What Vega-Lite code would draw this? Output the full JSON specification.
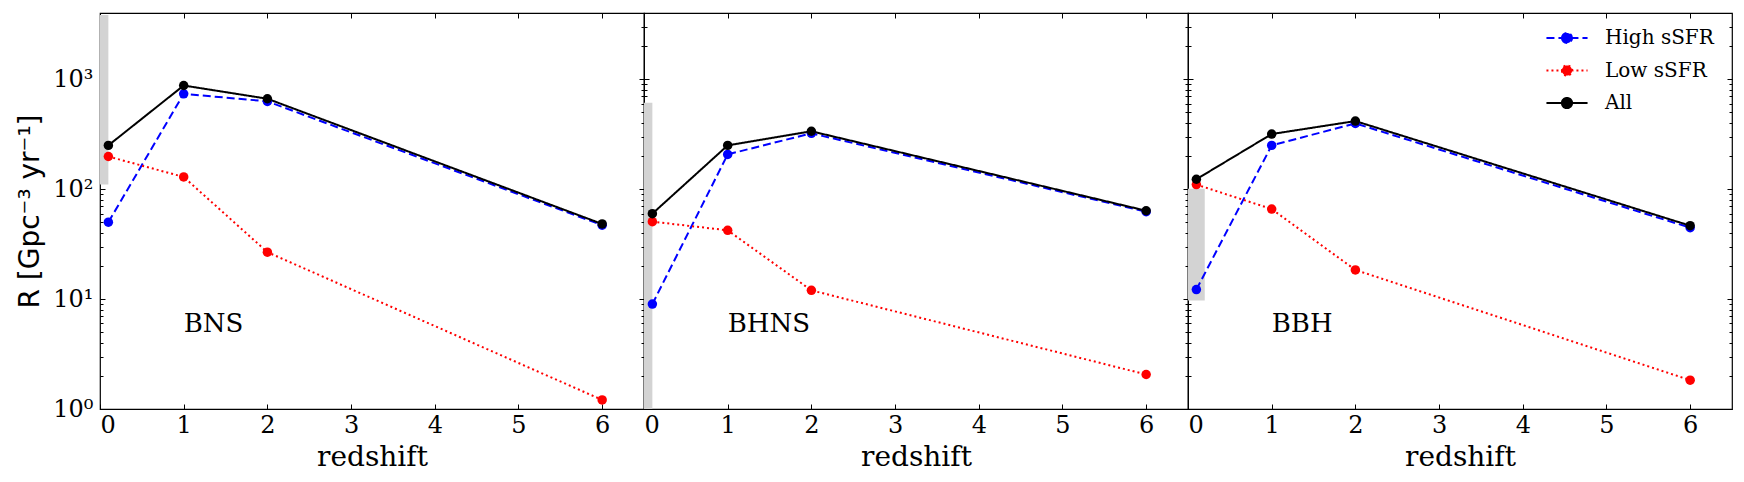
{
  "$schema": "https://vega.github.io/schema/vega-lite/v6.json",
  "padding": {"left": 16, "top": 11, "right": 5, "bottom": 3},
  "background": "white",
  "spacing": 0,
  "bounds": "flush",
  "config": {
    "view": {"stroke": "black", "strokeWidth": 1.2},
    "axis": {
      "grid": false,
      "domain": false,
      "tickColor": "black",
      "tickWidth": 1,
      "labelColor": "black",
      "titleColor": "black",
      "labelFont": "DejaVu Serif",
      "titleFont": "DejaVu Serif",
      "labelFontSize": 24,
      "titleFontSize": 28,
      "titleFontWeight": "normal"
    },
    "legend": {
      "symbolType": "M-1.37,0L1.37,0M-0.34,0A0.34,0.34,0,1,0,0.34,0A0.34,0.34,0,1,0,-0.34,0Z",
      "symbolSize": 900,
      "symbolStrokeWidth": 2,
      "labelFont": "DejaVu Serif",
      "labelFontSize": 20,
      "labelColor": "black",
      "labelOffset": 22,
      "rowPadding": 6.5,
      "padding": 0
    }
  },
  "datasets": {
    "rates": [
      {"panel": "BNS", "series": "High sSFR", "z": 0.1, "R": 50},
      {"panel": "BNS", "series": "High sSFR", "z": 1, "R": 736},
      {"panel": "BNS", "series": "High sSFR", "z": 2, "R": 628},
      {"panel": "BNS", "series": "High sSFR", "z": 6, "R": 47},
      {"panel": "BNS", "series": "Low sSFR", "z": 0.1, "R": 198},
      {"panel": "BNS", "series": "Low sSFR", "z": 1, "R": 129},
      {"panel": "BNS", "series": "Low sSFR", "z": 2, "R": 26.7},
      {"panel": "BNS", "series": "Low sSFR", "z": 6, "R": 1.21},
      {"panel": "BNS", "series": "All", "z": 0.1, "R": 250},
      {"panel": "BNS", "series": "All", "z": 1, "R": 876},
      {"panel": "BNS", "series": "All", "z": 2, "R": 664},
      {"panel": "BNS", "series": "All", "z": 6, "R": 48.2},
      {"panel": "BHNS", "series": "High sSFR", "z": 0.1, "R": 9.0},
      {"panel": "BHNS", "series": "High sSFR", "z": 1, "R": 207},
      {"panel": "BHNS", "series": "High sSFR", "z": 2, "R": 322},
      {"panel": "BHNS", "series": "High sSFR", "z": 6, "R": 62.3},
      {"panel": "BHNS", "series": "Low sSFR", "z": 0.1, "R": 50.6},
      {"panel": "BHNS", "series": "Low sSFR", "z": 1, "R": 42.2},
      {"panel": "BHNS", "series": "Low sSFR", "z": 2, "R": 12.0},
      {"panel": "BHNS", "series": "Low sSFR", "z": 6, "R": 2.06},
      {"panel": "BHNS", "series": "All", "z": 0.1, "R": 59.8},
      {"panel": "BHNS", "series": "All", "z": 1, "R": 250},
      {"panel": "BHNS", "series": "All", "z": 2, "R": 336},
      {"panel": "BHNS", "series": "All", "z": 6, "R": 63.6},
      {"panel": "BBH", "series": "High sSFR", "z": 0.1, "R": 12.2},
      {"panel": "BBH", "series": "High sSFR", "z": 1, "R": 250},
      {"panel": "BBH", "series": "High sSFR", "z": 2, "R": 396},
      {"panel": "BBH", "series": "High sSFR", "z": 6, "R": 44.6},
      {"panel": "BBH", "series": "Low sSFR", "z": 0.1, "R": 110},
      {"panel": "BBH", "series": "Low sSFR", "z": 1, "R": 65.9},
      {"panel": "BBH", "series": "Low sSFR", "z": 2, "R": 18.4},
      {"panel": "BBH", "series": "Low sSFR", "z": 6, "R": 1.83},
      {"panel": "BBH", "series": "All", "z": 0.1, "R": 123},
      {"panel": "BBH", "series": "All", "z": 1, "R": 317},
      {"panel": "BBH", "series": "All", "z": 2, "R": 416},
      {"panel": "BBH", "series": "All", "z": 6, "R": 46.5}
    ],
    "bands": [
      {"panel": "BNS", "x0": 0, "x1": 0.1, "lo": 110, "hi": 3840},
      {"panel": "BHNS", "x0": 0, "x1": 0.1, "lo": 1, "hi": 610},
      {"panel": "BBH", "x0": 0, "x1": 0.2, "lo": 9.7, "hi": 101}
    ],
    "labels": [
      {"panel": "BNS", "x": 1, "y": 5, "text": "BNS"},
      {"panel": "BHNS", "x": 1, "y": 5, "text": "BHNS"},
      {"panel": "BBH", "x": 1, "y": 5, "text": "BBH"}
    ]
  },
  "hconcat": [
    {
      "width": 544,
      "height": 396,
      "layer": [
        {
          "data": {"name": "bands"},
          "transform": [{"filter": "datum.panel === 'BNS'"}],
          "mark": {"type": "rect", "color": "#d3d3d3"},
          "encoding": {
            "x": {"field": "x0", "type": "quantitative", "scale": {"domain": [0, 6.5], "nice": false, "zero": false},
              "axis": {"orient": "bottom", "values": [0, 1, 2, 3, 4, 5, 6], "format": "d", "title": "redshift", "tickSize": -5, "labelPadding": 9, "titlePadding": 6}},
            "x2": {"field": "x1"},
            "y": {"field": "lo", "type": "quantitative", "scale": {"type": "log", "domain": [1, 4000], "nice": false},
              "axis": {"orient": "left", "values": [1, 2, 3, 4, 5, 6, 7, 8, 9, 10, 20, 30, 40, 50, 60, 70, 80, 90, 100, 200, 300, 400, 500, 600, 700, 800, 900, 1000, 2000, 3000],
                "labelExpr": "datum.value == 1 ? '10⁰' : datum.value == 10 ? '10¹' : datum.value == 100 ? '10²' : datum.value == 1000 ? '10³' : ''",
                "tickSize": {"condition": {"test": "indexof([1, 10, 100, 1000], datum.value) >= 0", "value": -5}, "value": -3},
                "labelPadding": 12, "title": "R [Gpc⁻³ yr⁻¹]", "titleFont": "DejaVu Sans", "titleFontSize": 28, "titlePadding": 8}},
            "y2": {"field": "hi"}
          }
        },
        {
          "data": {"name": "bands"},
          "transform": [{"filter": "datum.panel === 'BNS'"}],
          "mark": {"type": "rect", "opacity": 0},
          "encoding": {
            "x": {"field": "x0", "type": "quantitative", "axis": {"orient": "top", "values": [0, 1, 2, 3, 4, 5, 6], "labels": false, "title": null, "tickSize": -5}},
            "y": {"field": "lo", "type": "quantitative",
              "axis": {"orient": "right", "values": [1, 2, 3, 4, 5, 6, 7, 8, 9, 10, 20, 30, 40, 50, 60, 70, 80, 90, 100, 200, 300, 400, 500, 600, 700, 800, 900, 1000, 2000, 3000],
                "labels": false, "title": null,
                "tickSize": {"condition": {"test": "indexof([1, 10, 100, 1000], datum.value) >= 0", "value": -5}, "value": -3}}}
          }
        },
        {
          "data": {"name": "rates"},
          "transform": [{"filter": "datum.panel === 'BNS'"}],
          "mark": {"type": "line", "strokeWidth": 2, "point": {"filled": true, "size": 90}},
          "encoding": {
            "x": {"field": "z", "type": "quantitative", "axis": null},
            "y": {"field": "R", "type": "quantitative", "axis": null},
            "color": {"field": "series", "type": "nominal",
              "scale": {"domain": ["High sSFR", "Low sSFR", "All"], "range": ["#0000ff", "#ff0000", "#000000"]},
              "legend": {"title": null, "orient": "none", "legendX": 1451, "legendY": 9,
                "encode": {"symbols": {"update": {"fill": {"scale": "color", "field": "value"}}}}}},
            "strokeDash": {"field": "series", "type": "nominal",
              "scale": {"domain": ["High sSFR", "Low sSFR", "All"], "range": [[8, 4], [2, 3], [1, 0]]},
              "legend": {"title": null, "orient": "none", "legendX": 1451, "legendY": 9}}
          }
        },
        {
          "data": {"name": "labels"},
          "transform": [{"filter": "datum.panel === 'BNS'"}],
          "mark": {"type": "text", "align": "left", "baseline": "alphabetic", "font": "DejaVu Serif", "fontSize": 26, "color": "black"},
          "encoding": {
            "x": {"field": "x", "type": "quantitative", "axis": null},
            "y": {"field": "y", "type": "quantitative", "axis": null},
            "text": {"field": "text"}
          }
        }
      ],
      "resolve": {"axis": {"x": "independent", "y": "independent"}}
    },
    {
      "width": 544,
      "height": 396,
      "layer": [
        {
          "data": {"name": "bands"},
          "transform": [{"filter": "datum.panel === 'BHNS'"}],
          "mark": {"type": "rect", "color": "#d3d3d3"},
          "encoding": {
            "x": {"field": "x0", "type": "quantitative", "scale": {"domain": [0, 6.5], "nice": false, "zero": false},
              "axis": {"orient": "bottom", "values": [0, 1, 2, 3, 4, 5, 6], "format": "d", "title": "redshift", "tickSize": -5, "labelPadding": 9, "titlePadding": 6}},
            "x2": {"field": "x1"},
            "y": {"field": "lo", "type": "quantitative", "scale": {"type": "log", "domain": [1, 4000], "nice": false},
              "axis": {"orient": "left", "values": [1, 2, 3, 4, 5, 6, 7, 8, 9, 10, 20, 30, 40, 50, 60, 70, 80, 90, 100, 200, 300, 400, 500, 600, 700, 800, 900, 1000, 2000, 3000],
                "labels": false, "title": null,
                "tickSize": {"condition": {"test": "indexof([1, 10, 100, 1000], datum.value) >= 0", "value": -5}, "value": -3}}},
            "y2": {"field": "hi"}
          }
        },
        {
          "data": {"name": "bands"},
          "transform": [{"filter": "datum.panel === 'BHNS'"}],
          "mark": {"type": "rect", "opacity": 0},
          "encoding": {
            "x": {"field": "x0", "type": "quantitative", "axis": {"orient": "top", "values": [0, 1, 2, 3, 4, 5, 6], "labels": false, "title": null, "tickSize": -5}},
            "y": {"field": "lo", "type": "quantitative",
              "axis": {"orient": "right", "values": [1, 2, 3, 4, 5, 6, 7, 8, 9, 10, 20, 30, 40, 50, 60, 70, 80, 90, 100, 200, 300, 400, 500, 600, 700, 800, 900, 1000, 2000, 3000],
                "labels": false, "title": null,
                "tickSize": {"condition": {"test": "indexof([1, 10, 100, 1000], datum.value) >= 0", "value": -5}, "value": -3}}}
          }
        },
        {
          "data": {"name": "rates"},
          "transform": [{"filter": "datum.panel === 'BHNS'"}],
          "mark": {"type": "line", "strokeWidth": 2, "point": {"filled": true, "size": 90}},
          "encoding": {
            "x": {"field": "z", "type": "quantitative", "axis": null},
            "y": {"field": "R", "type": "quantitative", "axis": null},
            "color": {"field": "series", "type": "nominal", "scale": {"domain": ["High sSFR", "Low sSFR", "All"], "range": ["#0000ff", "#ff0000", "#000000"]}},
            "strokeDash": {"field": "series", "type": "nominal", "scale": {"domain": ["High sSFR", "Low sSFR", "All"], "range": [[8, 4], [2, 3], [1, 0]]}}
          }
        },
        {
          "data": {"name": "labels"},
          "transform": [{"filter": "datum.panel === 'BHNS'"}],
          "mark": {"type": "text", "align": "left", "baseline": "alphabetic", "font": "DejaVu Serif", "fontSize": 26, "color": "black"},
          "encoding": {
            "x": {"field": "x", "type": "quantitative", "axis": null},
            "y": {"field": "y", "type": "quantitative", "axis": null},
            "text": {"field": "text"}
          }
        }
      ],
      "resolve": {"axis": {"x": "independent", "y": "independent"}}
    },
    {
      "width": 544,
      "height": 396,
      "layer": [
        {
          "data": {"name": "bands"},
          "transform": [{"filter": "datum.panel === 'BBH'"}],
          "mark": {"type": "rect", "color": "#d3d3d3"},
          "encoding": {
            "x": {"field": "x0", "type": "quantitative", "scale": {"domain": [0, 6.5], "nice": false, "zero": false},
              "axis": {"orient": "bottom", "values": [0, 1, 2, 3, 4, 5, 6], "format": "d", "title": "redshift", "tickSize": -5, "labelPadding": 9, "titlePadding": 6}},
            "x2": {"field": "x1"},
            "y": {"field": "lo", "type": "quantitative", "scale": {"type": "log", "domain": [1, 4000], "nice": false},
              "axis": {"orient": "left", "values": [1, 2, 3, 4, 5, 6, 7, 8, 9, 10, 20, 30, 40, 50, 60, 70, 80, 90, 100, 200, 300, 400, 500, 600, 700, 800, 900, 1000, 2000, 3000],
                "labels": false, "title": null,
                "tickSize": {"condition": {"test": "indexof([1, 10, 100, 1000], datum.value) >= 0", "value": -5}, "value": -3}}},
            "y2": {"field": "hi"}
          }
        },
        {
          "data": {"name": "bands"},
          "transform": [{"filter": "datum.panel === 'BBH'"}],
          "mark": {"type": "rect", "opacity": 0},
          "encoding": {
            "x": {"field": "x0", "type": "quantitative", "axis": {"orient": "top", "values": [0, 1, 2, 3, 4, 5, 6], "labels": false, "title": null, "tickSize": -5}},
            "y": {"field": "lo", "type": "quantitative",
              "axis": {"orient": "right", "values": [1, 2, 3, 4, 5, 6, 7, 8, 9, 10, 20, 30, 40, 50, 60, 70, 80, 90, 100, 200, 300, 400, 500, 600, 700, 800, 900, 1000, 2000, 3000],
                "labels": false, "title": null,
                "tickSize": {"condition": {"test": "indexof([1, 10, 100, 1000], datum.value) >= 0", "value": -5}, "value": -3}}}
          }
        },
        {
          "data": {"name": "rates"},
          "transform": [{"filter": "datum.panel === 'BBH'"}],
          "mark": {"type": "line", "strokeWidth": 2, "point": {"filled": true, "size": 90}},
          "encoding": {
            "x": {"field": "z", "type": "quantitative", "axis": null},
            "y": {"field": "R", "type": "quantitative", "axis": null},
            "color": {"field": "series", "type": "nominal", "scale": {"domain": ["High sSFR", "Low sSFR", "All"], "range": ["#0000ff", "#ff0000", "#000000"]}},
            "strokeDash": {"field": "series", "type": "nominal", "scale": {"domain": ["High sSFR", "Low sSFR", "All"], "range": [[8, 4], [2, 3], [1, 0]]}}
          }
        },
        {
          "data": {"name": "labels"},
          "transform": [{"filter": "datum.panel === 'BBH'"}],
          "mark": {"type": "text", "align": "left", "baseline": "alphabetic", "font": "DejaVu Serif", "fontSize": 26, "color": "black"},
          "encoding": {
            "x": {"field": "x", "type": "quantitative", "axis": null},
            "y": {"field": "y", "type": "quantitative", "axis": null},
            "text": {"field": "text"}
          }
        }
      ],
      "resolve": {"axis": {"x": "independent", "y": "independent"}}
    }
  ]
}
